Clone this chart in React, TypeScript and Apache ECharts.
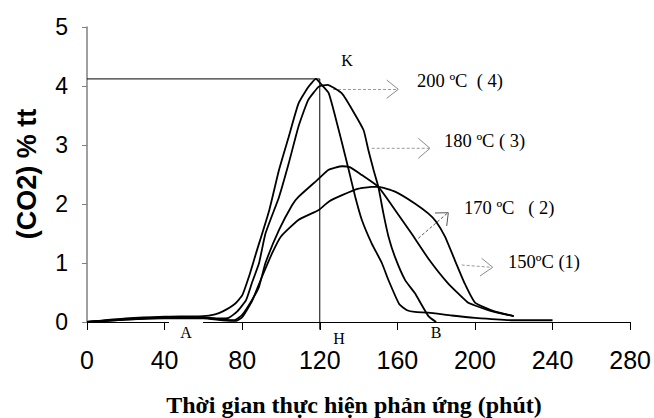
import React, { useEffect, useRef } from "react";
import * as echarts from "echarts";

// Time (min) / CO2 (%) readings for each temperature
const curve200: [number, number][] = [
  [0, 0], [20, 0.06], [40, 0.09], [60, 0.1], [66, 0.13], [70, 0.18], [76, 0.3], [80, 0.45],
  [83.5, 0.77], [87, 1.15], [94, 1.9], [99, 2.58], [104, 3.14], [109, 3.7], [114, 3.98],
  [118, 4.12], [121, 4.02], [124.6, 3.88], [128, 3.48], [131.5, 3.03], [134.9, 2.58],
  [138.3, 2.12], [141.7, 1.73], [146.8, 1.33], [152, 1.0], [155.4, 0.71], [161, 0.3],
  [165, 0.2], [169, 0.17], [176, 0.16], [188, 0.11], [200, 0.07], [220, 0.03], [240, 0.03],
];
const curve180: [number, number][] = [
  [0, 0], [20, 0.04], [40, 0.07], [60, 0.08], [68, 0.06], [73, 0.07], [77.5, 0.18], [82, 0.37],
  [85, 0.66], [88.7, 1.0], [92, 1.5], [99, 2.12], [104, 2.69], [109, 3.31], [114, 3.76],
  [119.5, 3.99], [124, 4.02], [131.5, 3.87], [137.4, 3.56], [142.6, 3.25], [145, 2.92],
  [147.7, 2.58], [150.2, 2.29], [152.8, 1.84], [155.4, 1.45], [158.8, 1.1], [164, 0.71],
  [169, 0.49], [176, 0.1], [180, 0],
];
const curve170: [number, number][] = [
  [0, 0], [20, 0.05], [40, 0.08], [60, 0.07], [70, 0.04], [76, 0.03], [80, 0.12], [85, 0.37],
  [88.7, 0.6], [92, 1.0], [99, 1.56], [105.7, 1.98], [109, 2.12], [118.5, 2.4], [124.6, 2.58],
  [131.5, 2.64], [135.7, 2.62], [141.7, 2.49], [150.2, 2.29], [158.8, 1.9], [167.3, 1.5],
  [176.5, 1.05], [186, 0.66], [196, 0.34], [200, 0.28], [210, 0.17], [220, 0.1],
];
const curve150: [number, number][] = [
  [0, 0], [20, 0.04], [40, 0.06], [60, 0.06], [70, 0.03], [77, 0.02], [80, 0.08], [85, 0.35],
  [90, 0.75], [95.5, 1.17], [100, 1.45], [109, 1.73], [119.5, 1.9], [124.6, 2.04], [131.5, 2.15],
  [140, 2.26], [146.8, 2.29], [150.2, 2.29], [158.8, 2.21], [169, 2.01], [175.9, 1.84],
  [180, 1.7], [184.5, 1.45], [189.6, 1.05], [194.6, 0.66], [200, 0.33], [210, 0.18], [220, 0.1],
];
// Guide lines K-H (peak of 200 ºC)
const guideLine: [number, number][] = [[0, 4.12], [120, 4.12], [120, -0.13]];

const xTicks = [0, 40, 80, 120, 160, 200, 240, 280];
const yTicks = [0, 1, 2, 3, 4, 5];
const seriesNames = ["200 ºC ( 4)", "180 ºC ( 3)", "170 ºC ( 2)", "150ºC (1)"];

const SERIF = "'Liberation Serif', 'Times New Roman', serif";
const SANS = "'Liberation Sans', Arial, sans-serif";

export default function App() {
  const ref = useRef<HTMLDivElement>(null);
  useEffect(() => {
    document.body.style.margin = "0";
    const chart = echarts.init(ref.current!, null, { renderer: "svg" });
    const curves = [curve200, curve180, curve170, curve150];
    const lineSeries = curves.map((d, i) => ({
      name: seriesNames[i],
      type: "line",
      data: d,
      showSymbol: false,
      smooth: 0.15,
      lineStyle: { color: "#000", width: 1.8 },
      z: 3,
    }));
    const arrowStyle = { stroke: "#8a8a8a", lineWidth: 1 };
    const dash = { stroke: "#9a9a9a", lineWidth: 1, lineDash: [3, 2] };
    const txt = (text: string, x: number, y: number, size = 18.5, align = "left") => ({
      type: "text",
      x, y,
      style: { text, font: `${size}px ${SERIF}`, fill: "#000", align, verticalAlign: "middle" },
      z: 10,
    });
    chart.setOption({
      animation: false,
      backgroundColor: "#fff",
      grid: { left: 87, right: 22, top: 27, bottom: 96, containLabel: false },
      xAxis: {
        type: "value",
        min: xTicks[0],
        max: xTicks[xTicks.length - 1],
        interval: 40,
        axisLine: { lineStyle: { color: "#000", width: 1 } },
        axisTick: { show: true, length: 8, lineStyle: { color: "#000" } },
        axisLabel: { color: "#000", fontSize: 25, fontFamily: SANS, margin: 25 },
        splitLine: { show: false },
      },
      yAxis: {
        type: "value",
        min: yTicks[0],
        max: yTicks[yTicks.length - 1],
        interval: 1,
        axisLine: { show: true, lineStyle: { color: "#808080", width: 1.5 } },
        axisTick: { show: true, length: 5, lineStyle: { color: "#808080" } },
        axisLabel: { color: "#000", fontSize: 23, fontFamily: SANS, margin: 19 },
        splitLine: { show: false },
      },
      series: [
        ...lineSeries,
        {
          name: "K-H",
          type: "line",
          data: guideLine,
          showSymbol: false,
          clip: false,
          lineStyle: { color: "#000", width: 1 },
          z: 2,
        },
      ],
      graphic: [
        { type: "rect", shape: { x: 169, y: 321, width: 34, height: 2.5 }, style: { fill: "#fff" }, z: 9 },
        {
          type: "text", x: 27, y: 174, rotation: Math.PI / 2,
          style: { text: "(CO2) % tt", font: `bold 27px ${SANS}`, fill: "#000", align: "center", verticalAlign: "middle" },
        },
        {
          type: "text", x: 354, y: 405,
          style: { text: "Thời gian thực hiện phản ứng (phút)", font: `bold 24px ${SERIF}`, fill: "#000", align: "center", verticalAlign: "middle" },
        },
        txt("K", 347, 60, 16, "center"),
        txt("200 ºC  ( 4)", 417, 81),
        txt("180 ºC ( 3)", 444, 141),
        txt("170 ºC   ( 2)", 464, 208),
        txt("150ºC (1)", 508, 262),
        txt("A", 186, 332, 16, "center"),
        txt("H", 339, 338, 16, "center"),
        txt("B", 436, 332, 16, "center"),
        { type: "line", shape: { x1: 333, y1: 89.5, x2: 397, y2: 89.5 }, style: dash },
        { type: "polyline", shape: { points: [[386.7, 80], [398.3, 89.3], [386.7, 98.3]] }, style: { ...arrowStyle, fill: "none" } },
        { type: "line", shape: { x1: 371.7, y1: 148.3, x2: 429, y2: 148.3 }, style: dash },
        { type: "polyline", shape: { points: [[418.3, 138.3], [430, 148.3], [418.3, 158.3]] }, style: { ...arrowStyle, fill: "none" } },
        { type: "line", shape: { x1: 418.3, y1: 238.3, x2: 447, y2: 213.5 }, style: { ...dash, stroke: "#555" } },
        { type: "polyline", shape: { points: [[435, 213], [448.3, 212.7], [446.7, 226]] }, style: { ...arrowStyle, stroke: "#555", fill: "none" } },
        { type: "line", shape: { x1: 461.7, y1: 265, x2: 491, y2: 267.3 }, style: dash },
        { type: "polyline", shape: { points: [[481.7, 258.3], [492.7, 267.3], [480, 276]] }, style: { ...arrowStyle, fill: "none" } },
      ],
    });
    return () => chart.dispose();
  }, []);
  return <div ref={ref} style={{ width: 654, height: 418 }} />;
}
